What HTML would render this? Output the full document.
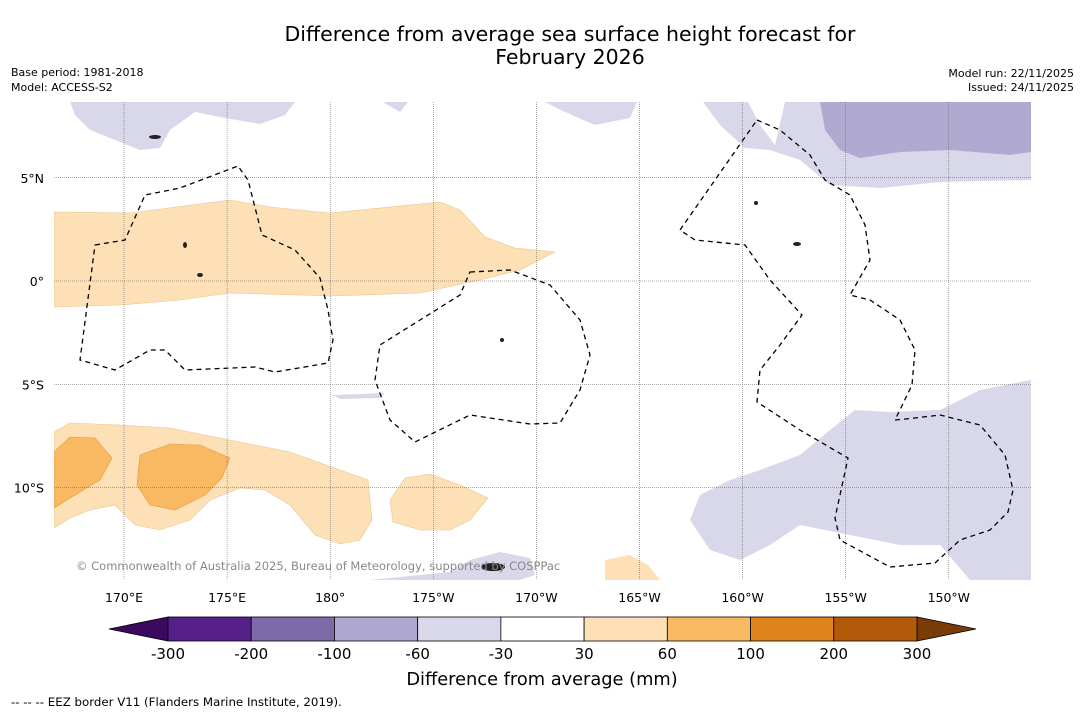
<!DOCTYPE html>
<html><head><meta charset="utf-8"><style>
body{margin:0;background:#fff;font-family:"DejaVu Sans","Liberation Sans",sans-serif;}
svg{display:block}
</style></head><body>
<svg width="1085" height="713" viewBox="0 0 1085 713" xmlns="http://www.w3.org/2000/svg" font-family="DejaVu Sans, Liberation Sans, sans-serif">
<rect width="1085" height="713" fill="#fff"/>
<text x="570" y="41" font-size="20.5" text-anchor="middle">Difference from average sea surface height forecast for</text>
<text x="570" y="64" font-size="20.5" text-anchor="middle">February 2026</text>
<text x="11" y="76" font-size="11">Base period: 1981-2018</text>
<text x="11" y="91" font-size="11">Model: ACCESS-S2</text>
<text x="1074" y="77" font-size="11" text-anchor="end">Model run: 22/11/2025</text>
<text x="1074" y="91" font-size="11" text-anchor="end">Issued: 24/11/2025</text>
<g id="map">
<clipPath id="mc"><rect x="54" y="102" width="977" height="478"/></clipPath>
<g clip-path="url(#mc)">
<path fill="#d8d8ea" d="M70,102 L295,102 L285,115 L260,124 L225,118 L195,112 L170,130 L160,148 L140,150 L115,140 L90,130 L75,115 Z"/>
<path fill="#d8d8ea" d="M383,102 L408,102 L400,112 Z"/>
<path fill="#d8d8ea" d="M545,102 L637,102 L630,118 L595,125 L565,112 Z"/>
<path fill="#d8d8ea" d="M703,102 L1031,102 L1031,180 L940,182 L880,188 L830,185 L800,160 L770,150 L745,148 L720,125 Z"/>
<path fill="#fff" d="M748,102 L785,102 L775,145 L760,125 Z"/>
<path fill="#b0aad0" d="M820,102 L1031,102 L1031,152 L1010,155 L950,150 L900,152 L860,158 L840,150 L825,130 Z"/>
<path fill="#d8d8ea" d="M1031,380 L980,390 L940,410 L890,412 L855,410 L830,430 L800,455 L760,470 L730,480 L700,495 L690,520 L710,550 L740,560 L770,545 L800,525 L850,535 L900,545 L940,545 L970,580 L1031,580 Z"/>
<path fill="#d8d8ea" d="M333,395 L385,393 L380,398 L340,399 Z"/>
<path fill="#d8d8ea" d="M370,580 L450,572 L470,560 L500,552 L530,558 L535,575 L520,580 Z"/>
<path fill="#fde0b6" stroke="#e8c690" stroke-width="0.6" d="M54,212 L130,213 L230,200 L270,207 L330,213 L440,202 L460,210 L485,237 L515,248 L555,252 L520,270 L480,280 L420,293 L330,296 L230,293 L180,300 L120,305 L54,307 Z"/>
<path fill="#fde0b6" stroke="#e8c690" stroke-width="0.6" d="M54,432 L70,423 L120,425 L170,428 L230,440 L290,452 L340,470 L368,480 L372,520 L360,540 L340,544 L315,535 L290,505 L265,490 L240,488 L210,500 L190,520 L160,530 L135,525 L115,505 L90,510 L70,518 L54,528 Z"/>
<path fill="#f9b862" stroke="#e09a40" stroke-width="0.6" d="M54,452 L70,437 L95,438 L112,458 L100,480 L75,495 L54,508 Z"/>
<path fill="#f9b862" stroke="#e09a40" stroke-width="0.6" d="M140,455 L170,444 L200,445 L230,458 L222,478 L205,495 L175,510 L150,505 L137,485 Z"/>
<path fill="#fde0b6" stroke="#e8c690" stroke-width="0.6" d="M405,478 L430,474 L460,485 L488,498 L470,520 L450,530 L420,530 L393,522 L390,500 Z"/>
<path fill="#fde0b6" d="M605,580 L605,560 L630,555 L648,565 L660,580 Z"/>
<g id="grid"></g>
<g fill="none" stroke="#000" stroke-width="1.3" stroke-dasharray="5,4">
<path d="M95,245 L125,240 L145,195 L180,188 L238,166 L248,180 L262,235 L295,250 L320,278 L328,310 L333,340 L328,363 L275,372 L255,367 L185,370 L165,350 L150,350 L115,370 L80,360 Z"/>
<path d="M470,272 L510,270 L550,285 L580,320 L590,355 L580,390 L560,423 L530,424 L470,415 L415,442 L390,420 L375,380 L380,345 L420,320 L460,295 Z"/>
<path d="M757,120 L780,130 L810,155 L825,180 L850,195 L865,225 L870,260 L850,295 L870,300 L900,320 L915,350 L912,385 L895,420 L915,418 L940,415 L980,425 L1005,455 L1013,490 L1008,512 L990,530 L960,540 L935,563 L890,567 L840,540 L835,518 L848,458 L800,430 L757,402 L760,370 L780,345 L802,315 L770,280 L745,245 L695,240 L680,230 Z"/>
</g>
<g fill="#222">
<ellipse cx="493" cy="567" rx="12" ry="4"/><ellipse cx="797" cy="244" rx="4" ry="2"/><ellipse cx="756" cy="203" rx="2" ry="2"/><ellipse cx="502" cy="340" rx="2" ry="2"/><ellipse cx="185" cy="245" rx="2" ry="3"/><ellipse cx="200" cy="275" rx="3" ry="2"/><ellipse cx="155" cy="137" rx="6" ry="2"/>
</g>
</g>
<text x="76" y="570" font-size="11.5" fill="#888">© Commonwealth of Australia 2025, Bureau of Meteorology, supported by COSPPac</text>
</g>
<g id="ticks"></g>
<g id="cbar"></g>
<text x="542" y="685" font-size="17.8" text-anchor="middle">Difference from average (mm)</text>
<text x="11" y="706" font-size="11.8">--  --  -- EEZ border V11 (Flanders Marine Institute, 2019).</text>
</svg>
<script>
const lonTicks=[170,175,180,185,190,195,200,205,210];
const lonLabels=["170°E","175°E","180°","175°W","170°W","165°W","160°W","155°W","150°W"];
const latTicks=[5,0,-5,-10];
const latLabels=["5°N","0°","5°S","10°S"];
const levels=["-300","-200","-100","-60","-30","30","60","100","200","300"];
const colors=["#56208a","#7d6aa8","#aea8d0","#d8d8ea","#ffffff","#fde0b6","#f9b862","#e0841c","#b35a0a"];
const NS="http://www.w3.org/2000/svg";
const xOf=lon=>124+(lon-170)*20.62;
const yOf=lat=>281-lat*20.65;
function mk(t,a,p){const e=document.createElementNS(NS,t);for(const k in a)e.setAttribute(k,a[k]);p.appendChild(e);return e;}
const grid=document.getElementById('grid'),ticks=document.getElementById('ticks');
lonTicks.forEach((l,i)=>{
 const g=mk('line',{x1:xOf(l),x2:xOf(l),y1:102,y2:580,stroke:'#555','stroke-width':0.5,'stroke-dasharray':'1,1'},grid);
 
 
 const t=mk('text',{x:xOf(l),y:602,'font-size':12.5,'text-anchor':'middle'},ticks);t.textContent=lonLabels[i];
 
 
});
latTicks.forEach((l,i)=>{
 const g=mk('line',{x1:54,x2:1031,y1:yOf(l),y2:yOf(l),stroke:'#555','stroke-width':0.5,'stroke-dasharray':'1,1'},grid);
 
 
 const t=mk('text',{x:44,y:yOf(l)+5,'font-size':12.5,'text-anchor':'end'},ticks);t.textContent=latLabels[i];
 
 
});
const cb=document.getElementById('cbar');
const x0=168,x1=917,y0=617,h=24,w=(x1-x0)/colors.length;
const lt=mk('polygon',{points:`${x0},${y0} ${x0},${y0+h} 109,${y0+h/2}`,fill:'#3b0a5e',stroke:'#000','stroke-width':0.8},cb);


const rt=mk('polygon',{points:`${x1},${y0} ${x1},${y0+h} 976,${y0+h/2}`,fill:'#7a3c06',stroke:'#000','stroke-width':0.8},cb);


colors.forEach((c,i)=>{
 const r=mk('rect',{x:x0+i*w,y:y0,width:w,height:h,fill:c,stroke:'#000','stroke-width':0.8},cb);
 
 
});
levels.forEach((v,i)=>{
 const t=mk('text',{x:x0+i*w,y:659,'font-size':15,'text-anchor':'middle'},cb);t.textContent=v;
 
 
});
</script>
</body></html>
